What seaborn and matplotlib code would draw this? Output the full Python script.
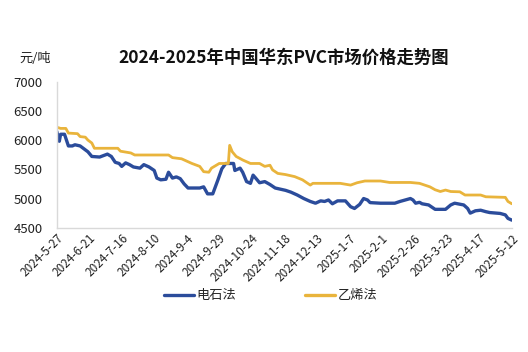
import pandas as pd
import seaborn as sns
import matplotlib.pyplot as plt

# 华东PVC价格 (元/吨)
carbide_dates = [
    "2024-05-27", "2024-05-29", "2024-05-30", "2024-06-02", "2024-06-05", "2024-06-08",
    "2024-06-10", "2024-06-14", "2024-06-17", "2024-06-20", "2024-06-23", "2024-06-29",
    "2024-07-05", "2024-07-08", "2024-07-11", "2024-07-14", "2024-07-16", "2024-07-19",
    "2024-07-22", "2024-07-25", "2024-07-30", "2024-08-02", "2024-08-06", "2024-08-10",
    "2024-08-12", "2024-08-15", "2024-08-19", "2024-08-21", "2024-08-24", "2024-08-27",
    "2024-08-30", "2024-09-02", "2024-09-05", "2024-09-14", "2024-09-17", "2024-09-20",
    "2024-09-24", "2024-09-28", "2024-10-01", "2024-10-04", "2024-10-10", "2024-10-11",
    "2024-10-15", "2024-10-17", "2024-10-20", "2024-10-23", "2024-10-25", "2024-10-27",
    "2024-10-30", "2024-11-03", "2024-11-07", "2024-11-11", "2024-11-19", "2024-11-23",
    "2024-11-28", "2024-12-03", "2024-12-08", "2024-12-12", "2024-12-16", "2024-12-19",
    "2024-12-22", "2024-12-25", "2024-12-29", "2025-01-04", "2025-01-08", "2025-01-11",
    "2025-01-15", "2025-01-18", "2025-01-21", "2025-01-23", "2025-01-31", "2025-02-11",
    "2025-02-15", "2025-02-19", "2025-02-23", "2025-02-25", "2025-02-27", "2025-03-02",
    "2025-03-04", "2025-03-09", "2025-03-14", "2025-03-22", "2025-03-26", "2025-03-29",
    "2025-04-05", "2025-04-08", "2025-04-10", "2025-04-14", "2025-04-18", "2025-04-22",
    "2025-04-25", "2025-05-03", "2025-05-07", "2025-05-09", "2025-05-12",
]
carbide_price = [
    6150, 5980, 6100, 6100, 5900, 5900,
    5920, 5900, 5850, 5800, 5720, 5710,
    5760, 5720, 5620, 5600, 5550, 5610,
    5580, 5540, 5520, 5580, 5540, 5480,
    5350, 5320, 5330, 5450, 5350, 5370,
    5340, 5250, 5180, 5180, 5200, 5080,
    5080, 5320, 5510, 5600, 5600, 5480,
    5520, 5450, 5290, 5260, 5400, 5350,
    5270, 5290, 5240, 5180, 5140, 5110,
    5060, 5000, 4950, 4920, 4960, 4950,
    4975, 4910, 4960, 4960, 4860, 4830,
    4900, 5000, 4975, 4930, 4920, 4920,
    4950, 4975, 5000, 4975, 4920, 4935,
    4910, 4890, 4815, 4815, 4890, 4920,
    4890, 4830, 4750, 4790, 4800, 4775,
    4760, 4745, 4720, 4660, 4630,
]

ethylene_dates = [
    "2024-05-27", "2024-05-30", "2024-06-03", "2024-06-05", "2024-06-12", "2024-06-14",
    "2024-06-18", "2024-06-20", "2024-06-23", "2024-06-25", "2024-07-13", "2024-07-15",
    "2024-07-23", "2024-07-26", "2024-08-21", "2024-08-24", "2024-08-31", "2024-09-03",
    "2024-09-08", "2024-09-14", "2024-09-17", "2024-09-21", "2024-09-23", "2024-09-29",
    "2024-10-06", "2024-10-07", "2024-10-09", "2024-10-12", "2024-10-17", "2024-10-23",
    "2024-10-30", "2024-11-03", "2024-11-07", "2024-11-09", "2024-11-13", "2024-11-19",
    "2024-11-26", "2024-12-02", "2024-12-06", "2024-12-08", "2024-12-10", "2024-12-31",
    "2025-01-08", "2025-01-13", "2025-01-19", "2025-01-31", "2025-02-07", "2025-02-23",
    "2025-03-02", "2025-03-06", "2025-03-10", "2025-03-14", "2025-03-18", "2025-03-22",
    "2025-03-26", "2025-04-02", "2025-04-06", "2025-04-18", "2025-04-22", "2025-05-07",
    "2025-05-09", "2025-05-12",
]
ethylene_price = [
    6220, 6200, 6200, 6120, 6110, 6060,
    6050, 6000, 5950, 5860, 5860, 5810,
    5780, 5745, 5745, 5700, 5680, 5650,
    5600, 5550, 5460, 5450, 5520, 5600,
    5600, 5910, 5800, 5720, 5660, 5600,
    5600, 5550, 5570, 5490, 5430, 5410,
    5375, 5320, 5260, 5230, 5260, 5260,
    5230, 5270, 5300, 5300, 5275, 5275,
    5260, 5230, 5200, 5150, 5120, 5145,
    5120, 5115, 5060, 5060, 5030, 5020,
    4950, 4910,
]

series_names = ["电石法", "乙烯法"]
colors = ["#2B4C9B", "#E9B43C"]

df = pd.concat([
    pd.DataFrame({"date": pd.to_datetime(carbide_dates), "price": carbide_price, "type": series_names[0]}),
    pd.DataFrame({"date": pd.to_datetime(ethylene_dates), "price": ethylene_price, "type": series_names[1]}),
])

sns.set_style("white")
plt.rcParams["font.family"] = ["Noto Sans CJK SC", "DejaVu Sans"]

fig = plt.figure(figsize=(5.28, 3.52), dpi=100, facecolor="white")
ax = fig.add_axes([0.1074, 0.353, 0.862, 0.415])

sns.lineplot(data=df, x="date", y="price", hue="type", palette=colors,
             linewidth=2.0, ax=ax)
# blue line is a bit heavier in the original
ax.lines[0].set_linewidth(2.4)

# x axis: one tick every 25 days
ticks = pd.date_range("2024-05-27", "2025-05-12", freq="25D")
ax.set_xticks(ticks)
ax.set_xticklabels([f"{d.year}-{d.month}-{d.day}" for d in ticks],
                   rotation=45, ha="right", rotation_mode="anchor", fontsize=8.5, color="#222222")
ax.set_xlim(ticks[0], ticks[-1])
ax.set_ylim(4500, 7000)
ax.set_yticks([4500, 5000, 5500, 6000, 6500, 7000])
ax.tick_params(axis="y", labelsize=9.5, colors="#222222", length=0, pad=10)
ax.tick_params(axis="x", direction="in", length=3, color="#d9d9d9", pad=3)

for s in ["top", "right"]:
    ax.spines[s].set_visible(False)
for s in ["left", "bottom"]:
    ax.spines[s].set_color("#d9d9d9")
    ax.spines[s].set_linewidth(1.0)

ax.set_xlabel("")
ax.set_ylabel("")
leg = ax.legend(loc="upper center", bbox_to_anchor=(0.47, -0.34), ncol=2, frameon=False,
                fontsize=9.5, handlelength=2.3, columnspacing=5.2, handletextpad=0.2)
for h in leg.get_lines():
    h.set_linewidth(2.4)

fig.text(0.538, 0.835, "2024-2025年中国华东PVC市场价格走势图", ha="center", va="center",
         fontsize=12.5, fontweight="bold", color="#111111")
fig.text(0.066, 0.835, "元/吨", ha="center", va="center", fontsize=9.5, color="#222222")

fig.savefig("out.png", dpi=100, facecolor="white")
